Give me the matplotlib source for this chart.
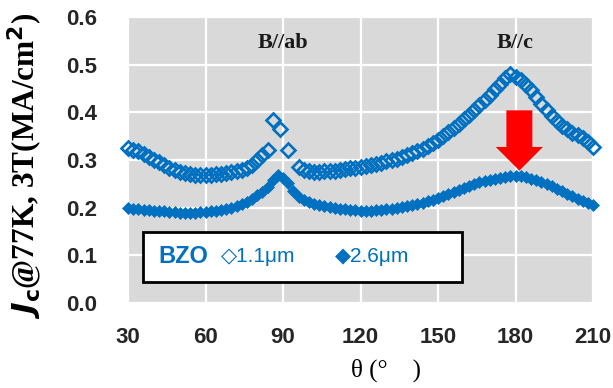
import matplotlib
matplotlib.use("Agg")
import matplotlib.pyplot as plt
from matplotlib.patches import Rectangle, FancyArrowPatch

# θ (deg) and Jc (MA/cm2)
theta_11 = [30, 32, 34, 36, 38, 40, 42, 44, 46, 48, 50, 52, 54, 56, 58, 60,
            62, 64, 66, 68, 70, 72, 74, 76, 78, 80, 82, 84, 86, 89, 92, 96,
            98, 100, 102, 104, 106, 108, 110, 112, 114, 116, 118, 120, 122,
            124, 126, 128, 130, 132, 134, 136, 138, 140, 142, 144, 146, 148,
            150, 152, 154, 156, 158, 160, 162, 164, 166, 168, 170, 172, 174,
            176, 178, 180, 182, 184, 186, 188, 190, 192, 194, 196, 198, 200,
            202, 204, 206, 208, 210]
jc_11 = [0.325, 0.322, 0.318, 0.313, 0.307, 0.301, 0.295, 0.289, 0.284, 0.279,
         0.275, 0.272, 0.270, 0.268, 0.268, 0.268, 0.269, 0.270, 0.271, 0.273,
         0.274, 0.276, 0.278, 0.283, 0.290, 0.300, 0.310, 0.321, 0.384, 0.365,
         0.321, 0.286, 0.280, 0.276, 0.275, 0.275, 0.276, 0.276, 0.277, 0.279,
         0.281, 0.283, 0.284, 0.286, 0.288, 0.290, 0.292, 0.294, 0.297, 0.300,
         0.303, 0.306, 0.310, 0.314, 0.318, 0.323, 0.329, 0.335, 0.342, 0.350,
         0.358, 0.367, 0.376, 0.385, 0.395, 0.405, 0.415, 0.426, 0.437, 0.448,
         0.460, 0.472, 0.480, 0.474, 0.468, 0.458, 0.446, 0.432, 0.418, 0.405,
         0.393, 0.382, 0.372, 0.364, 0.357, 0.352, 0.346, 0.338, 0.328]

theta_26 = [30, 32, 34, 36, 38, 40, 42, 44, 46, 48, 50, 52, 54, 56, 58, 60,
            62, 64, 66, 68, 70, 72, 74, 76, 78, 80, 82, 84, 86, 88, 90, 92,
            94, 96, 98, 100, 102, 104, 106, 108, 110, 112, 114, 116, 118, 120,
            122, 124, 126, 128, 130, 132, 134, 136, 138, 140, 142, 144, 146,
            148, 150, 152, 154, 156, 158, 160, 162, 164, 166, 168, 170, 172,
            174, 176, 178, 180, 182, 184, 186, 188, 190, 192, 194, 196, 198,
            200, 202, 204, 206, 208, 210]
jc_26 = [0.199, 0.198, 0.197, 0.196, 0.195, 0.194, 0.193, 0.192, 0.191, 0.190,
         0.189, 0.189, 0.189, 0.189, 0.190, 0.191, 0.192, 0.194, 0.195, 0.197,
         0.200, 0.203, 0.207, 0.212, 0.219, 0.226, 0.233, 0.244, 0.258, 0.268,
         0.262, 0.251, 0.235, 0.223, 0.216, 0.211, 0.208, 0.205, 0.203, 0.201,
         0.199, 0.198, 0.197, 0.196, 0.195, 0.194, 0.193, 0.194, 0.195, 0.196,
         0.197, 0.198, 0.199, 0.201, 0.203, 0.205, 0.207, 0.210, 0.213, 0.217,
         0.221, 0.225, 0.229, 0.233, 0.237, 0.241, 0.245, 0.249, 0.253, 0.256,
         0.259, 0.261, 0.263, 0.265, 0.266, 0.267, 0.266, 0.264, 0.261, 0.257,
         0.253, 0.249, 0.245, 0.240, 0.235, 0.229, 0.224, 0.219, 0.214, 0.210,
         0.206]

x_ticks = [30, 60, 90, 120, 150, 180, 210]
y_ticks = [0.0, 0.1, 0.2, 0.3, 0.4, 0.5, 0.6]

BLUE = "#0070C0"
SERIF = "Liberation Serif"
SANS = "Liberation Sans"

fig = plt.figure(figsize=(6.13, 3.88), dpi=100)
ax = fig.add_axes([128 / 613, 85 / 388, 465 / 613, 286 / 388])
ax.set_facecolor("#D9D9D9")

ax.plot(theta_11, jc_11, ls="none", marker="D", ms=7.0, mfc="none",
        mec=BLUE, mew=1.9, clip_on=False, zorder=3)
ax.plot(theta_26, jc_26, ls="none", marker="D", ms=6.6, mfc=BLUE,
        mec=BLUE, mew=0.5, clip_on=False, zorder=3)

ax.set_xlim(30, 210)
ax.set_ylim(0, 0.6)
ax.set_xticks(x_ticks)
ax.set_yticks(y_ticks)
ax.set_xticklabels([str(t) for t in x_ticks], family=SANS, fontweight="bold",
                   fontsize=16, color="#262626")
ax.set_yticklabels([f"{t:.1f}" for t in y_ticks], family=SANS, fontweight="bold",
                   fontsize=16, color="#262626")
ax.tick_params(length=0)
ax.tick_params(axis="x", pad=17)
ax.tick_params(axis="y", pad=22)
for s in ax.spines.values():
    s.set_visible(False)
ax.grid(True, color="white", linewidth=1.6, zorder=0)
ax.set_axisbelow(True)

# field direction labels
ax.text(90, 0.545, "B//ab", ha="center", va="center", family=SERIF,
        fontweight="bold", fontsize=16, color="#1a1a1a")
ax.text(180, 0.545, "B//c", ha="center", va="center", family=SERIF,
        fontweight="bold", fontsize=16, color="#1a1a1a")

# red arrow
arrow = FancyArrowPatch((181.5, 0.41), (181.5, 0.272),
                        arrowstyle="simple,head_width=2.0,head_length=1.0,tail_width=1.1",
                        mutation_scale=17, color="#FF0000", lw=0, zorder=4)
ax.add_patch(arrow)

# legend box
ax.add_patch(Rectangle((0.032, 0.073), 0.686, 0.175, transform=ax.transAxes,
                       facecolor="white", edgecolor="black", lw=2, zorder=5))
ax.text(0.065, 0.162, "BZO", transform=ax.transAxes, ha="left", va="center",
        family=SANS, fontweight="bold", fontsize=17, color=BLUE, zorder=6)
ax.text(0.200, 0.162, "◇1.1μm", transform=ax.transAxes, ha="left", va="center",
        family=[SANS, "DejaVu Sans"], fontsize=15, color=BLUE, zorder=6)
ax.text(0.445, 0.162, "◆2.6μm", transform=ax.transAxes, ha="left", va="center",
        family=[SANS, "DejaVu Sans"], fontsize=15, color=BLUE, zorder=6)

# axis titles
fig.text(0.042, 0.572, r"$\boldsymbol{J}_{\mathbf{c}}$@77K, 3T(MA/cm$^{\mathbf{2}}$)",
         rotation=90, ha="center", va="center", family=SERIF,
         fontweight="bold", fontsize=22.5)
fig.text(386 / 613, 1 - 370 / 388, "θ (°    )", ha="center", va="center",
         family=SERIF, fontsize=18)

fig.savefig("out.png", dpi=100)
